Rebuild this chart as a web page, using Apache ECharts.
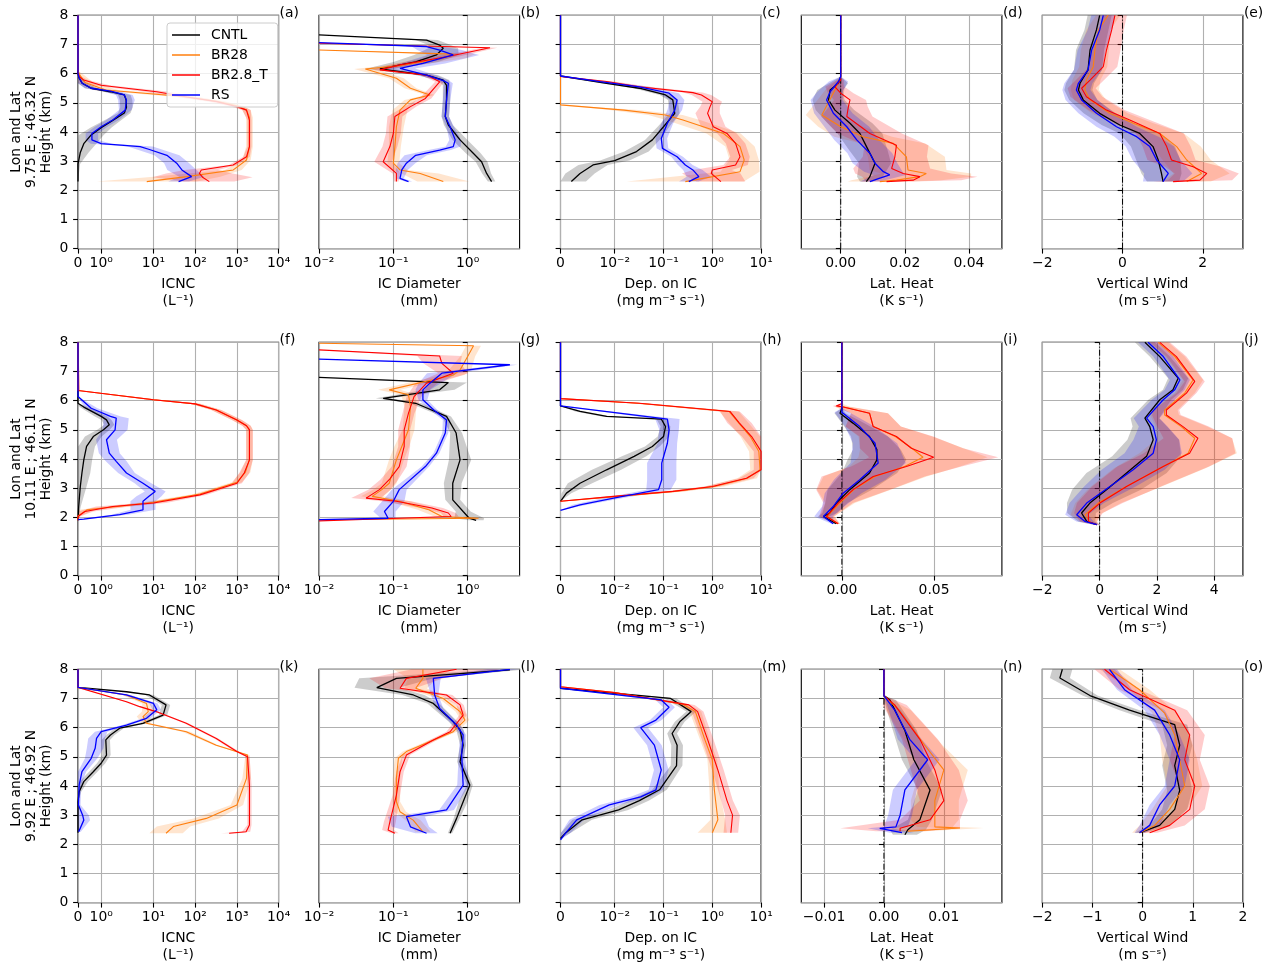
<!DOCTYPE html>
<html>
<head>
<meta charset="utf-8">
<script src="https://cdn.jsdelivr.net/npm/echarts@6/dist/echarts.min.js"></script>
<style>
html, body { margin: 0; padding: 0; background: #fff; }
#chart { width: 1275px; height: 969px; }
</style>
</head>
<body>
<div id="chart"></div>
<script>
// experiments, in legend order
const seriesNames = ['CNTL', 'BR28', 'BR2.8_T', 'RS'];
const panelLetters = ['a', 'b', 'c', 'd', 'e', 'f', 'g', 'h', 'i', 'j', 'k', 'l', 'm', 'n', 'o'];
const siteLabels = ['9.75 E ; 46.32 N', '10.11 E ; 46.11 N', '9.92 E ; 46.92 N'];

// tick values and labels of the x axes
const icncTicks = [0, 1, 10, 100, 1000, 10000];
const icncTickLabels = ['0', '10⁰', '10¹', '10²', '10³', '10⁴'];
const diamTicks = [0.01, 0.1, 1];
const diamTickLabels = ['10⁻²', '10⁻¹', '10⁰'];
const depTicks = [0, 0.01, 0.1, 1, 10];
const depTickLabels = ['0', '10⁻²', '10⁻¹', '10⁰', '10¹'];
const heatTicks = [[0, 0.02, 0.04], [0, 0.05], [-0.01, 0, 0.01]];
const heatTickLabels = [['0.00', '0.02', '0.04'], ['0.00', '0.05'], ['−0.01', '0.00', '0.01']];
const heatRange = [[-0.0123, 0.0503], [-0.022, 0.0868], [-0.0138, 0.0197]];
const windTicks = [[-2, 0, 2], [-2, 0, 2, 4], [-2, -1, 0, 1, 2]];
const windTickLabels = [['−2', '0', '2'], ['−2', '0', '2', '4'], ['−2', '−1', '0', '1', '2']];
const windRange = [[-2, 3], [-2, 5], [-2, 2]];

// profiles: [height km, mean, half width of shading in axis units (decades for log axes)]
const a_CNTL = [[2.3,0,0],[2.9,0,0.05],[3.3,0.1,0.2],[3.6,0.25,0.3],[3.9,0.57,0.3],[4.15,1,0.25],[4.4,1.5,0.2],[4.65,2,0.15],[4.85,2.25,0.15],[5.1,2.2,0.15],[5.27,2,0.15],[5.38,1.4,0.15],[5.5,0.57,0.15],[5.67,0.18,0.1],[5.85,0.05,0.05],[6,0,0],[8,0,0]];
const a_BR28 = [[2.3,6.9,1.2],[2.47,63,0.8],[2.7,820,0.2],[3.04,1700,0.1],[3.5,2000,0.08],[4.5,2000,0.08],[4.75,1700,0.1],[4.9,1000,0.15],[5.05,330,0.2],[5.2,63,0.25],[5.3,10,0.3],[5.44,1.2,0.3],[5.7,0.3,0.2],[5.95,0.08,0.1],[6.1,0,0],[8,0,0]];
const a_BR28T = [[2.3,218,0.6],[2.45,150,1.2],[2.58,126,0.8],[2.7,140,0.4],[2.87,810,0.1],[3.15,1700,0.08],[3.5,2000,0.05],[4.4,2000,0.05],[4.75,1700,0.1],[4.87,1000,0.15],[5.04,330,0.2],[5.2,63,0.25],[5.38,12,0.3],[5.5,2.25,0.25],[5.6,1,0.2],[5.78,0.25,0.1],[5.9,0.06,0.05],[6,0,0],[8,0,0]];
const a_RS = [[2.3,40,0.25],[2.47,82,0.3],[2.7,48,0.35],[2.93,36,0.3],[3.2,21,0.3],[3.4,8,0.3],[3.5,4.8,0.3],[3.6,1,0.25],[3.73,0.6,0.15],[3.95,0.6,0.15],[4.18,1,0.15],[4.41,1.5,0.15],[4.75,2.1,0.15],[5.1,2.25,0.2],[5.27,2,0.2],[5.4,1.4,0.2],[5.5,0.57,0.15],[5.67,0.18,0.1],[5.85,0.05,0.05],[6,0,0],[8,0,0]];

const b_CNTL = [[2.3,2.1,0.05],[2.58,1.8,0.06],[2.98,1.54,0.08],[3.27,1.19,0.1],[3.73,0.79,0.1],[4.24,0.55,0.06],[4.53,0.5,0.05],[5.1,0.52,0.05],[5.6,0.52,0.05],[5.78,0.47,0.08],[5.95,0.28,0.15],[6.16,0.066,0.2],[6.4,0.2,0.3],[6.64,0.38,0.3],[6.87,0.47,0.2],[6.98,0.42,0.15],[7.15,0.28,0.15],[7.33,0.01,0]];
const b_BR28 = [[2.3,0.47,0.35],[2.58,0.23,0.25],[2.7,0.123,0.1],[2.93,0.1,0.08],[3.5,0.105,0.08],[4.18,0.11,0.1],[4.75,0.123,0.1],[5.1,0.17,0.08],[5.27,0.31,0.06],[5.5,0.17,0.08],[5.84,0.11,0.1],[6.16,0.042,0.15],[6.27,0.12,0.2],[6.53,0.47,0.3],[6.67,0.64,0.3],[6.81,0.01,0]];
const b_BR28T = [[2.3,0.11,0.03],[2.58,0.11,0.05],[2.98,0.073,0.12],[3.5,0.09,0.1],[3.95,0.1,0.1],[4.53,0.105,0.1],[4.87,0.17,0.08],[5.15,0.27,0.08],[5.72,0.42,0.06],[5.95,0.28,0.08],[6.13,0.066,0.1],[6.3,0.123,0.15],[6.58,0.52,0.15],[6.89,2.0,0.1],[7.04,0.01,0]];
const b_RS = [[2.3,0.16,0.05],[2.41,0.123,0.05],[2.7,0.13,0.08],[2.93,0.15,0.12],[3.2,0.2,0.15],[3.38,0.42,0.15],[3.5,0.64,0.1],[3.73,0.68,0.08],[4.18,0.58,0.05],[4.53,0.5,0.05],[5.1,0.52,0.05],[5.67,0.55,0.06],[5.76,0.47,0.08],[5.95,0.28,0.12],[6.18,0.123,0.2],[6.35,0.25,0.3],[6.64,0.64,0.35],[6.81,0.42,0.3],[6.93,0.28,0.2],[7.06,0.01,0]];

const c_CNTL = [[2.3,0.002,0.3],[2.58,0.0036,0.3],[2.87,0.006,0.3],[3.02,0.01,0.3],[3.33,0.028,0.25],[3.73,0.059,0.15],[4.18,0.1,0.12],[4.64,0.17,0.1],[5.1,0.155,0.1],[5.27,0.11,0.12],[5.5,0.032,0.12],[5.67,0.0085,0.12],[5.92,0,0],[8,0,0]];
const c_BR28 = [[2.3,0.28,1.2],[2.64,3.7,0.4],[3.04,4.5,0.3],[3.5,3.7,0.3],[3.95,1.7,0.35],[4.41,0.25,0.35],[4.58,0.11,0.35],[4.75,0.0155,0.3],[4.93,0,0],[8,0,0]];
const c_BR28T = [[2.3,1.5,0.5],[2.58,0.95,0.6],[2.7,1.0,0.4],[2.87,3.0,0.25],[3.15,3.7,0.2],[3.61,3.0,0.2],[3.95,2.0,0.2],[4.18,1.05,0.25],[4.64,0.8,0.25],[4.87,0.9,0.2],[5.04,1.0,0.2],[5.27,0.6,0.2],[5.35,0.4,0.2],[5.55,0.032,0.2],[5.73,0.0085,0.15],[5.9,0,0],[8,0,0]];
const c_RS = [[2.3,0.33,0.2],[2.47,0.53,0.25],[2.7,0.4,0.2],[2.87,0.28,0.15],[3.15,0.19,0.12],[3.44,0.095,0.12],[3.78,0.09,0.12],[4.3,0.12,0.12],[4.75,0.17,0.15],[5.1,0.19,0.15],[5.33,0.13,0.2],[5.55,0.032,0.2],[5.73,0.0073,0.15],[5.92,0,0],[8,0,0]];

const d_CNTL = [[2.3,0.008,0.002],[2.47,0.0091,0.004],[2.93,0.0107,0.005],[3.38,0.0086,0.006],[3.95,0.006,0.007],[4.3,0.0029,0.007],[4.75,-0.0018,0.006],[5.1,-0.0038,0.005],[5.44,-0.0033,0.004],[5.67,-0.0007,0.003],[5.9,0,0],[8,0,0]];
const d_BR28 = [[2.3,0.0122,0.01],[2.35,0.0174,0.014],[2.47,0.0247,0.016],[2.58,0.0267,0.014],[2.7,0.021,0.012],[3.15,0.0205,0.012],[3.61,0.0164,0.01],[3.84,0.007,0.009],[4.18,0,0.007],[4.58,-0.0059,0.005],[5.44,-0.0018,0.003],[5.9,0,0],[8,0,0]];
const d_BR28T = [[2.3,0.0143,0.008],[2.35,0.0226,0.015],[2.47,0.0247,0.018],[2.58,0.0195,0.015],[2.75,0.0159,0.012],[3.15,0.0169,0.01],[3.55,0.0174,0.01],[3.95,0.0091,0.01],[4.53,0.0019,0.008],[4.87,0.0024,0.006],[5.1,0.0029,0.005],[5.33,0,0.004],[5.55,-0.0018,0.003],[5.78,0,0.001],[5.85,0,0],[8,0,0]];
const d_RS = [[2.3,0.0091,0.003],[2.41,0.012,0.004],[2.53,0.0153,0.005],[2.64,0.0133,0.006],[2.93,0.0107,0.007],[3.27,0.0091,0.007],[3.73,0.005,0.007],[4.18,0.0019,0.007],[4.64,-0.0023,0.006],[5.1,-0.0044,0.005],[5.38,-0.0033,0.004],[5.73,-0.0007,0.003],[5.9,0,0],[8,0,0]];

const e_CNTL = [[2.3,1.01,0.4],[2.58,0.97,0.5],[3.04,0.89,0.55],[3.5,0.76,0.55],[3.95,0.43,0.5],[4.24,-0.07,0.45],[4.64,-0.57,0.4],[5.1,-0.98,0.35],[5.44,-1.1,0.35],[5.67,-1.06,0.35],[6.13,-0.86,0.35],[6.81,-0.81,0.35],[7.5,-0.65,0.3],[8,-0.57,0.3]];
const e_BR28 = [[2.3,1.6,0.6],[2.58,1.97,0.7],[3.04,1.6,0.6],[3.5,1.35,0.6],[3.95,0.93,0.6],[4.3,0.27,0.5],[4.64,-0.32,0.45],[5.1,-0.81,0.4],[5.44,-0.94,0.35],[5.78,-0.9,0.35],[6.24,-0.73,0.35],[6.81,-0.69,0.35],[7.5,-0.6,0.3],[8,-0.36,0.3]];
const e_BR28T = [[2.3,1.26,0.5],[2.35,1.93,0.8],[2.58,2.1,0.8],[2.81,1.76,0.7],[3.04,1.22,0.6],[3.5,1.1,0.6],[3.95,0.93,0.6],[4.41,0.18,0.5],[4.75,-0.4,0.45],[5.21,-0.9,0.4],[5.5,-1.02,0.35],[5.78,-0.81,0.35],[6.24,-0.48,0.35],[6.81,-0.4,0.35],[7.5,-0.27,0.3],[8,-0.19,0.3]];
const e_RS = [[2.3,1.01,0.5],[2.58,1.14,0.6],[3.04,0.85,0.6],[3.5,0.68,0.6],[3.84,0.35,0.55],[4.18,-0.15,0.5],[4.64,-0.65,0.45],[5.1,-1.02,0.4],[5.44,-1.15,0.35],[5.67,-1.1,0.35],[6.13,-0.86,0.35],[6.81,-0.77,0.35],[7.5,-0.57,0.3],[8,-0.48,0.3]];

const f_CNTL = [[1.9,0,0],[2.37,0.03,0.05],[3.06,0.1,0.15],[3.52,0.17,0.2],[3.97,0.25,0.2],[4.43,0.37,0.2],[4.77,0.66,0.2],[5.0,1.1,0.15],[5.17,1.35,0.12],[5.34,1.23,0.12],[5.46,1,0.15],[5.78,0.25,0.1],[5.91,0,0],[8,0,0]];
const f_BR28 = [[1.9,0,0],[2.05,0,0.05],[2.26,0.4,0.2],[2.4,2,0.3],[2.52,10,0.25],[2.8,130,0.15],[3.2,1000,0.12],[3.55,1600,0.12],[3.97,2000,0.08],[5.0,2000,0.08],[5.14,1700,0.1],[5.34,1000,0.12],[5.68,320,0.12],[5.89,100,0.12],[6.03,10,0.15],[6.35,0,0.05],[8,0,0]];
const f_BR28T = [[1.9,0,0],[2.03,0,0.05],[2.2,0.3,0.2],[2.37,1.5,0.4],[2.49,10,0.3],[2.77,130,0.15],[3.17,1000,0.12],[3.52,1500,0.12],[3.97,2000,0.08],[5.0,2000,0.08],[5.14,1700,0.1],[5.34,1000,0.12],[5.68,320,0.12],[5.89,100,0.12],[6.03,10,0.15],[6.35,0,0.05],[8,0,0]];
const f_RS = [[1.92,0,0],[1.94,0.25,0.1],[2.09,1.8,0.2],[2.26,5.6,0.3],[2.55,5.6,0.3],[2.72,7.8,0.3],[2.89,11,0.25],[3.17,5.6,0.2],[3.52,2.25,0.2],[3.92,1.65,0.25],[4.2,1.35,0.25],[4.66,1.23,0.25],[5.0,1.6,0.3],[5.4,1.65,0.3],[5.46,1.4,0.25],[5.74,0.57,0.15],[6.14,0,0],[8,0,0]];

const g_CNTL = [[1.9,1.3,0.1],[1.97,1.05,0.2],[2.2,0.87,0.1],[2.6,0.63,0.1],[3.17,0.63,0.12],[3.97,0.79,0.15],[4.89,0.7,0.08],[5.46,0.52,0.06],[5.91,0.2,0.08],[6.08,0.073,0.1],[6.37,0.42,0.2],[6.62,0.55,0.25],[6.8,0.01,0]];
const g_BR28 = [[1.92,0.01,0],[1.97,1.4,0.1],[2.03,0.45,0.1],[2.26,0.3,0.15],[2.55,0.12,0.15],[2.72,0.052,0.15],[2.95,0.07,0.12],[3.17,0.088,0.1],[3.97,0.11,0.1],[4.43,0.13,0.1],[5.0,0.16,0.08],[5.8,0.17,0.08],[6.2,0.16,0.1],[6.37,0.088,0.15],[6.88,0.64,0.15],[7.05,0.79,0.15],[7.51,1.0,0.1],[7.88,1.2,0.1],[7.97,0.01,0]];
const g_BR28T = [[1.88,0.01,0],[2.03,0.6,0.1],[2.15,0.55,0.1],[2.32,0.33,0.15],[2.55,0.11,0.2],[2.66,0.043,0.2],[2.95,0.065,0.15],[3.29,0.088,0.12],[3.74,0.12,0.1],[4.43,0.14,0.08],[5.0,0.14,0.08],[5.57,0.16,0.08],[6.14,0.19,0.1],[6.6,0.28,0.15],[6.94,0.64,0.2],[7.28,0.45,0.25],[7.53,0.42,0.3],[7.74,0.01,0]];
const g_RS = [[1.92,0.01,0],[1.97,0.085,0.1],[2.2,0.076,0.15],[2.55,0.1,0.15],[2.95,0.12,0.1],[3.74,0.27,0.05],[4.2,0.38,0.04],[4.89,0.5,0.04],[5.34,0.52,0.05],[5.68,0.35,0.05],[6.03,0.25,0.06],[6.37,0.25,0.1],[6.6,0.31,0.15],[6.94,0.45,0.2],[7.23,3.7,0.1],[7.42,0.01,0]];

const h_CNTL = [[2.55,0,0],[2.83,0.0011,0.1],[3.17,0.0036,0.25],[3.63,0.0085,0.3],[4.09,0.025,0.25],[4.43,0.059,0.15],[4.77,0.1,0.12],[5.11,0.11,0.1],[5.37,0.09,0.1],[5.46,0.0085,0.1],[5.63,0.0036,0.1],[5.82,0,0],[8,0,0]];
const h_BR28 = [[2.55,0,0.05],[2.72,0.012,0.15],[2.89,0.17,0.2],[3.06,1.1,0.2],[3.34,5.2,0.2],[3.63,9.5,0.2],[4.26,9,0.2],[4.77,6,0.2],[5.23,3.5,0.2],[5.63,2.2,0.2],[5.91,0.03,0.15],[6.07,0,0],[8,0,0]];
const h_BR28T = [[2.55,0,0.05],[2.72,0.0098,0.15],[2.89,0.155,0.2],[3.06,1.0,0.15],[3.34,5,0.15],[3.63,10,0.15],[4.26,10,0.15],[4.77,6.4,0.2],[5.23,3.6,0.25],[5.63,2.3,0.2],[5.91,0.032,0.15],[6.07,0,0],[8,0,0]];
const h_RS = [[2.24,0,0],[2.43,0.0036,0.15],[2.66,0.0098,0.2],[2.95,0.079,0.25],[3.29,0.092,0.3],[3.86,0.092,0.3],[4.54,0.12,0.2],[5.0,0.13,0.2],[5.37,0.12,0.25],[5.82,0,0],[8,0,0]];

const i_CNTL = [[1.78,-0.003,0.001],[2.03,-0.01,0.003],[2.15,-0.0065,0.004],[2.49,-0.003,0.006],[2.95,0.0043,0.012],[3.52,0.015,0.015],[3.97,0.019,0.016],[4.32,0.019,0.013],[4.77,0.015,0.01],[5.23,0.006,0.006],[5.57,-0.001,0.003],[5.75,0,0],[8,0,0]];
const i_BR28 = [[1.78,-0.002,0.001],[2.03,-0.008,0.004],[2.49,-0.001,0.008],[2.95,0.0065,0.02],[3.4,0.018,0.028],[3.74,0.034,0.03],[4.06,0.044,0.035],[4.37,0.038,0.028],[4.77,0.029,0.02],[5.11,0.017,0.015],[5.57,0.015,0.01],[5.8,0,0.004],[5.9,0,0],[8,0,0]];
const i_BR28T = [[1.78,-0.002,0.001],[2.03,-0.0083,0.004],[2.49,-0.002,0.008],[2.95,0.0061,0.02],[3.4,0.017,0.028],[3.74,0.035,0.03],[4.06,0.0498,0.035],[4.37,0.0377,0.028],[4.77,0.0296,0.02],[5.11,0.017,0.015],[5.57,0.015,0.01],[5.78,0.0007,0.004],[5.82,-0.003,0.002],[5.9,0,0],[8,0,0]];
const i_RS = [[1.78,-0.0047,0.001],[2.03,-0.01,0.005],[2.37,-0.0047,0.006],[2.83,0.0007,0.01],[3.29,0.0097,0.014],[3.86,0.0197,0.015],[4.54,0.018,0.012],[5.11,0.0097,0.008],[5.6,0,0.004],[5.75,0,0],[8,0,0]];

const j_CNTL = [[1.75,-0.1,0.1],[1.86,-0.45,0.3],[2.15,-0.63,0.5],[2.49,-0.34,0.8],[2.95,0.24,1.2],[3.52,0.94,1.4],[4.09,1.64,1.2],[4.66,1.87,0.9],[5.11,1.75,0.6],[5.4,1.58,0.5],[6.03,2.1,0.4],[6.37,2.56,0.35],[6.77,2.74,0.35],[7.51,2.1,0.35],[8,1.58,0.35]];
const j_BR28 = [[1.8,-0.3,0.2],[2.09,-0.51,0.5],[2.49,-0.05,0.8],[3.0,0.82,1.2],[3.68,2.1,1.6],[4.2,3.09,1.7],[4.71,3.32,1.3],[5.11,2.85,0.9],[5.51,2.27,0.5],[5.68,2.27,0.45],[6.26,2.97,0.35],[6.71,3.26,0.35],[7.51,2.62,0.35],[8,2.04,0.35]];
const j_BR28T = [[1.75,-0.1,0.1],[1.86,-0.39,0.3],[2.15,-0.39,0.5],[2.49,0.01,0.8],[3.06,0.94,1.2],[3.74,2.22,1.6],[4.2,3.14,1.6],[4.71,3.43,1.2],[5.11,2.91,0.9],[5.51,2.33,0.5],[5.68,2.33,0.45],[6.26,3.03,0.35],[6.66,3.32,0.35],[7.51,2.68,0.35],[8,2.1,0.35]];
const j_RS = [[1.75,-0.1,0.1],[1.86,-0.51,0.3],[2.09,-0.8,0.4],[2.49,-0.45,0.6],[3.06,0.36,0.9],[3.63,1.17,1.1],[4.2,1.87,1.0],[4.66,1.98,0.8],[5.11,1.87,0.5],[5.4,1.64,0.45],[6.03,2.22,0.4],[6.37,2.62,0.35],[6.71,2.8,0.35],[7.51,2.22,0.35],[8,1.69,0.35]];

const k_CNTL = [[2.4,0,0],[3.46,0,0],[3.8,0.05,0.05],[4.15,0.25,0.1],[4.49,0.66,0.1],[4.78,1,0.1],[5.06,1.23,0.1],[5.58,1.2,0.1],[5.75,1.4,0.1],[5.98,1.8,0.1],[6.15,5.6,0.1],[6.43,17,0.1],[6.78,20,0.1],[7.12,8,0.1],[7.23,2.25,0.1],[7.38,0,0],[8,0,0]];
const k_BR28 = [[2.38,20,0.4],[2.61,30,0.4],[2.89,185,0.3],[3.35,1000,0.15],[4.26,1700,0.1],[5.06,1800,0.05],[5.4,320,0.05],[5.86,61,0.1],[6.15,6.8,0.1],[6.38,5.6,0.15],[6.55,7.5,0.15],[6.83,6.8,0.1],[7.12,2.25,0.1],[7.38,0,0],[8,0,0]];
const k_BR28T = [[2.38,650,0.2],[2.43,1660,0.1],[2.66,2000,0.05],[4.03,2000,0.05],[5.0,1800,0.05],[5.18,1000,0.05],[5.63,320,0.05],[6.15,61,0.05],[6.55,11.5,0.05],[6.72,4.7,0.05],[6.89,2.25,0.05],[7.38,0,0],[8,0,0]];
const k_RS = [[2.43,0.03,0.05],[2.83,0.25,0.15],[3.0,0.2,0.15],[3.35,0.02,0.05],[4.03,0.05,0.05],[4.49,0.17,0.1],[4.95,0.57,0.15],[5.29,0.74,0.2],[5.63,0.8,0.2],[5.86,1,0.15],[6.09,2.25,0.1],[6.32,6.8,0.1],[6.61,12,0.1],[6.83,10,0.1],[7.12,2.25,0.1],[7.38,0,0],[8,0,0]];

const l_CNTL = [[2.38,0.58,0.03],[2.89,0.71,0.04],[3.46,0.87,0.06],[4.03,1.07,0.04],[4.83,0.79,0.04],[5.4,0.87,0.04],[5.92,0.79,0.05],[6.2,0.64,0.06],[6.83,0.345,0.08],[7.12,0.186,0.15],[7.37,0.06,0.3],[7.69,0.11,0.5],[7.98,3.7,0.3]];
const l_BR28 = [[2.43,0.25,0.1],[2.83,0.185,0.1],[3.12,0.123,0.08],[3.46,0.11,0.05],[4.26,0.11,0.05],[4.95,0.117,0.05],[5.18,0.15,0.05],[5.86,0.64,0.05],[6.26,0.92,0.06],[6.55,0.79,0.06],[7.0,0.47,0.06],[7.35,0.2,0.15],[7.69,0.25,0.2],[8,0.25,0.4]];
const l_BR28T = [[2.38,0.105,0.05],[2.49,0.085,0.08],[2.78,0.09,0.08],[3.69,0.11,0.05],[4.49,0.123,0.05],[5.06,0.15,0.05],[5.58,0.345,0.05],[5.86,0.58,0.05],[6.43,0.87,0.05],[6.78,0.79,0.05],[7.12,0.52,0.08],[7.35,0.123,0.2],[7.69,0.15,0.5],[8,0.71,0.6]];
const l_RS = [[2.38,0.28,0.15],[2.6,0.17,0.25],[2.95,0.15,0.25],[3.18,0.52,0.1],[4.03,0.87,0.08],[5.06,0.83,0.04],[5.75,0.87,0.04],[6.09,0.71,0.05],[6.66,0.42,0.05],[7.12,0.36,0.05],[7.69,0.345,0.1],[8,3.7,0.3]];

const m_CNTL = [[2.2,0,0],[2.4,0.001,0.1],[2.84,0.004,0.2],[3.18,0.012,0.2],[3.5,0.032,0.2],[3.87,0.083,0.15],[4.7,0.185,0.12],[5.4,0.19,0.12],[5.8,0.15,0.1],[6.2,0.215,0.1],[6.55,0.37,0.1],[7.0,0.14,0.12],[7.35,0,0],[8,0,0]];
const m_BR28 = [[2.4,1.0,0.3],[2.84,1.3,0.15],[3.87,1.1,0.1],[4.9,1.0,0.1],[5.6,0.7,0.1],[6.55,0.45,0.12],[6.8,0.25,0.12],[7.2,0.01,0.1],[7.4,0,0],[8,0,0]];
const m_BR28T = [[2.4,2.4,0.15],[3.0,2.6,0.15],[3.5,2.0,0.12],[4.55,1.3,0.12],[5.6,0.8,0.12],[6.55,0.5,0.12],[6.78,0.33,0.12],[7.2,0.01,0.1],[7.4,0,0],[8,0,0]];
const m_RS = [[2.15,0,0],[2.4,0.001,0.1],[2.84,0.003,0.15],[3.35,0.009,0.2],[3.63,0.034,0.2],[3.87,0.07,0.15],[4.55,0.09,0.15],[5.4,0.065,0.15],[6.0,0.034,0.15],[6.26,0.07,0.12],[6.7,0.13,0.12],[6.95,0.09,0.12],[7.35,0,0],[8,0,0]];

const n_CNTL = [[2.33,0.0035,0.002],[2.5,0.004,0.003],[2.84,0.006,0.002],[3.86,0.0077,0.002],[4.9,0.005,0.002],[5.9,0.0035,0.002],[6.95,0.001,0.001],[7.1,0,0],[8,0,0]];
const n_BR28 = [[2.45,0.004,0.003],[2.56,0.0127,0.004],[2.6,0.0085,0.003],[2.84,0.0085,0.004],[3.5,0.0085,0.004],[4.55,0.01,0.004],[5.4,0.0068,0.003],[6.6,0.0025,0.002],[7.1,0,0],[8,0,0]];
const n_BR28T = [[2.45,0.0027,0.004],[2.55,0.0027,0.01],[2.84,0.0077,0.005],[3.5,0.01,0.004],[4.55,0.0085,0.004],[5.6,0.006,0.003],[6.78,0.0018,0.002],[7.1,0,0],[8,0,0]];
const n_RS = [[2.4,0.003,0.002],[2.55,-0.0007,0.002],[2.6,0.002,0.002],[3.0,0.0027,0.002],[3.87,0.0035,0.002],[4.9,0.0073,0.002],[5.6,0.0043,0.002],[6.6,0.0018,0.001],[7.1,0,0],[8,0,0]];

const o_CNTL = [[2.4,-0.06,0.1],[2.65,0.34,0.2],[3.2,0.64,0.25],[3.85,0.74,0.25],[4.7,0.64,0.25],[5.4,0.74,0.25],[6.1,0.64,0.25],[6.6,-0.26,0.2],[7.1,-1.05,0.15],[7.7,-1.65,0.2],[8,-1.6,0.2]];
const o_BR28 = [[2.4,-0.06,0.15],[2.65,0.24,0.3],[3.2,0.54,0.35],[4.0,0.84,0.35],[4.9,0.74,0.35],[5.75,0.64,0.3],[6.5,0.44,0.25],[7.3,-0.06,0.2],[8,-0.66,0.2]];
const o_BR28T = [[2.4,0.14,0.15],[2.65,0.54,0.3],[3.2,0.94,0.3],[4.0,1.04,0.3],[4.9,0.84,0.3],[5.75,0.94,0.3],[6.6,0.64,0.25],[7.3,-0.26,0.2],[8,-0.76,0.2]];
const o_RS = [[2.4,-0.06,0.1],[2.65,0.14,0.2],[3.35,0.34,0.2],[4.0,0.64,0.2],[4.9,0.74,0.2],[5.75,0.54,0.2],[6.6,0.24,0.2],[7.3,-0.36,0.15],[8,-0.66,0.15]];

const panels = [
    [a_CNTL, a_BR28, a_BR28T, a_RS], [b_CNTL, b_BR28, b_BR28T, b_RS], [c_CNTL, c_BR28, c_BR28T, c_RS],
    [d_CNTL, d_BR28, d_BR28T, d_RS], [e_CNTL, e_BR28, e_BR28T, e_RS],
    [f_CNTL, f_BR28, f_BR28T, f_RS], [g_CNTL, g_BR28, g_BR28T, g_RS], [h_CNTL, h_BR28, h_BR28T, h_RS],
    [i_CNTL, i_BR28, i_BR28T, i_RS], [j_CNTL, j_BR28, j_BR28T, j_RS],
    [k_CNTL, k_BR28, k_BR28T, k_RS], [l_CNTL, l_BR28, l_BR28T, l_RS], [m_CNTL, m_BR28, m_BR28T, m_RS],
    [n_CNTL, n_BR28, n_BR28T, n_RS], [o_CNTL, o_BR28, o_BR28T, o_RS]
];

const lineColors = ['#000000', '#ff7f0e', '#ff0000', '#0000ff'];
const lineWidths = [1.3, 1.1, 1.1, 1.3];
const bandColors = ['rgba(0,0,0,0.2)', 'rgba(255,127,14,0.2)', 'rgba(255,0,0,0.2)', 'rgba(0,0,255,0.2)'];
const FONT = 'DejaVu Sans';
const FS = 13.9;

// matplotlib style symlog (linscale 1), in decades
function symlogT(thr) {
    const L = 1 / (1 - 0.1);
    return v => Math.abs(v) <= thr ? v / thr * L : Math.sign(v) * (L + Math.log10(Math.abs(v) / thr));
}
const logT = v => Math.log10(v);
const linT = v => v;

function axisSpec(col, row) {
    if (col === 0) return { tf: symlogT(2), min: 0, max: 10000, ticks: icncTicks, labels: icncTickLabels, name: 'ICNC\n(L⁻¹)' };
    if (col === 1) return { tf: logT, min: 0.01, max: 5, ticks: diamTicks, labels: diamTickLabels, name: 'IC Diameter\n(mm)' };
    if (col === 2) return { tf: symlogT(0.01), min: 0, max: 10, ticks: depTicks, labels: depTickLabels, name: 'Dep. on IC\n(mg m⁻³ s⁻¹)' };
    if (col === 3) return { tf: linT, min: heatRange[row][0], max: heatRange[row][1], ticks: heatTicks[row], labels: heatTickLabels[row], name: 'Lat. Heat\n(K s⁻¹)' };
    return { tf: linT, min: windRange[row][0], max: windRange[row][1], ticks: windTicks[row], labels: windTickLabels[row], name: 'Vertical Wind\n(m s⁻ˢ)' };
}

const gridLeft = [78, 319, 560.5, 801.3, 1042.3];
const gridTop = [15.3, 342.3, 669.3];
const gridW = 200.6;
const gridH = 233.4;

const grids = [], xAxes = [], yAxes = [], series = [], graphics = [];

panels.forEach((panel, p) => {
    const row = Math.floor(p / 5), col = p % 5;
    const spec = axisSpec(col, row);
    const tmin = spec.tf(spec.min), tmax = spec.tf(spec.max);
    const tickT = spec.ticks.map(spec.tf);

    grids.push({
        left: gridLeft[col], top: gridTop[row], width: gridW, height: gridH,
        show: true, borderColor: '#000', borderWidth: 1.1, backgroundColor: 'transparent'
    });

    xAxes.push({
        gridIndex: p, type: 'value', min: tmin, max: tmax,
        name: spec.name, nameLocation: 'middle', nameGap: 27,
        nameTextStyle: { fontFamily: FONT, fontSize: FS, color: '#000', lineHeight: 17 },
        axisLine: { show: false },
        axisTick: { show: true, inside: false, length: 4.9, customValues: tickT, lineStyle: { color: '#000', width: 1.1 } },
        axisLabel: {
            customValues: tickT, margin: 8, fontFamily: FONT, fontSize: FS, color: '#000',
            formatter: v => {
                const k = tickT.findIndex(t => Math.abs(t - v) < 1e-9);
                return k >= 0 ? spec.labels[k] : '';
            }
        },
        splitLine: { show: true, lineStyle: { color: '#b0b0b0', width: 1.1 } }
    });

    yAxes.push({
        gridIndex: p, type: 'value', min: 0, max: 8, interval: 1,
        name: col === 0 ? 'Lon and Lat\n' + siteLabels[row] + '\nHeight (km)' : '',
        nameLocation: 'middle', nameGap: 24, nameRotate: 90,
        nameTextStyle: { fontFamily: FONT, fontSize: FS, color: '#000', lineHeight: 15 },
        axisLine: { show: false },
        axisTick: { show: true, inside: false, length: 4.9, lineStyle: { color: '#000', width: 1.1 } },
        axisLabel: { show: col === 0, margin: 9.7, fontFamily: FONT, fontSize: FS, color: '#000' },
        splitLine: { show: true, lineStyle: { color: '#b0b0b0', width: 1.1 } }
    });

    const clampT = t => Math.min(tmax, Math.max(tmin, t));

    panel.forEach((prof, s) => {
        series.push({
            type: 'custom', xAxisIndex: p, yAxisIndex: p, silent: true, z: 1,
            data: [[tmin, 0]],
            renderItem: (params, api) => {
                const pts = [];
                prof.forEach(d => pts.push(api.coord([clampT(spec.tf(d[1]) - d[2]), d[0]])));
                for (let k = prof.length - 1; k >= 0; k--) {
                    const d = prof[k];
                    pts.push(api.coord([clampT(spec.tf(d[1]) + d[2]), d[0]]));
                }
                return { type: 'polygon', shape: { points: pts }, style: { fill: bandColors[s] } };
            }
        });
    });

    if (col >= 3) {
        series.push({
            type: 'line', xAxisIndex: p, yAxisIndex: p, silent: true, z: 2,
            data: [[0, 0], [0, 8]], symbol: 'none',
            lineStyle: { color: '#000', width: 1, type: [6, 2, 1, 2] }
        });
    }

    panel.forEach((prof, s) => {
        series.push({
            type: 'line', name: seriesNames[s], xAxisIndex: p, yAxisIndex: p, z: 3,
            data: prof.map(d => [spec.tf(d[1]), d[0]]),
            symbol: 'none', showSymbol: false, clip: true,
            lineStyle: { color: lineColors[s], width: lineWidths[s] },
            itemStyle: { color: lineColors[s] }
        });
    });

    graphics.push({
        type: 'text', left: gridLeft[col] + gridW + 1, top: gridTop[row] - 9,
        style: { text: '(' + panelLetters[p] + ')', font: FS + 'px "' + FONT + '"', fill: '#000' }
    });
});

const chart = echarts.init(document.getElementById('chart'));
chart.setOption({
    animation: false,
    backgroundColor: '#fff',
    textStyle: { fontFamily: FONT },
    grid: grids,
    xAxis: xAxes,
    yAxis: yAxes,
    legend: {
        data: seriesNames, orient: 'vertical', left: 167, top: 23,
        icon: 'rect', symbolKeepAspect: false,
        itemWidth: 28, itemHeight: 1.5, itemGap: 6,
        padding: [5, 10, 5, 5],
        borderColor: '#cccccc', borderWidth: 1, borderRadius: 3,
        backgroundColor: 'rgba(255,255,255,0.8)',
        textStyle: { fontFamily: FONT, fontSize: FS, color: '#000', padding: [0, 0, 0, 6] }
    },
    graphic: graphics,
    series: series
});
</script>
</body>
</html>
